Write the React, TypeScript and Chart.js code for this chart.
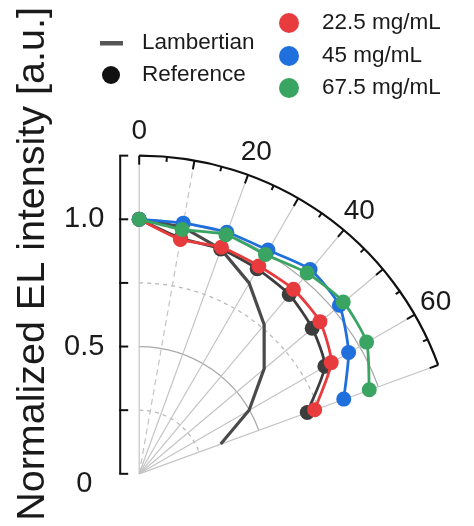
import React, { useEffect, useRef } from "react";
import { Chart, registerables } from "chart.js";

Chart.register(...registerables);

// ---------- data ----------
const angles = [0, 10, 20, 30, 40, 50, 60, 70];
const lambertian = [1.0, 0.985, 0.94, 0.866, 0.766, 0.643, 0.5, 0.342];
const reference = [1.0, 0.94, 0.94, 0.93, 0.92, 0.89, 0.845, 0.705];
const conc225 = [1.0, 0.935, 0.947, 0.943, 0.946, 0.93, 0.874, 0.736];
const conc45 = [1.0, 1.0, 1.01, 1.015, 1.048, 1.03, 0.953, 0.858];
const conc675 = [1.0, 0.975, 1.0, 0.995, 1.03, 1.05, 1.035, 0.965];

const radialTicks = [0, 0.25, 0.5, 0.75, 1.0, 1.25];
const radialTickLabels = ["0", "", "0.5", "", "1.0", ""];
const gridRadii = [0.25, 0.5, 0.75, 1.0];
const gridRadiiDashed = [true, false, true, false];
const spokeAngles = [0, 10, 20, 30, 40, 50, 60, 70];
const angleTickLabels = [0, 20, 40, 60];
const angleMax = 70;
const radiusMax = 1.25;
const yTitle = "Normalized EL intensity [a.u.]";
const seriesNames = ["Lambertian", "Reference", "22.5 mg/mL", "45 mg/mL", "67.5 mg/mL"];

// ---------- style / layout ----------
const W = 474;
const H = 526;
const ORIGIN_X = 136;
const ORIGIN_Y = 480;
const UNIT = 262;
const FONT = "'Liberation Sans', Arial, Helvetica, sans-serif";
const COL_RED = "#e83b3d";
const COL_BLUE = "#1f6fdc";
const COL_GREEN = "#3aa462";
const COL_REF = "#3d3d3d";
const COL_LAMB = "#4a4a4a";
const COL_GRID = "#c4c4c4";
const COL_TEXT = "#1a1a1a";

const deg = (a: number) => (a * Math.PI) / 180;
const toXY = (vals: number[]) =>
  vals.map((r, i) => ({ x: r * Math.sin(deg(angles[i])), y: r * Math.cos(deg(angles[i])) }));

const polarPlugin = {
  id: "polarDecor",
  beforeDatasetsDraw(chart: any) {
    const ctx = chart.ctx as CanvasRenderingContext2D;
    const xs = chart.scales.x;
    const ys = chart.scales.y;
    const ox = xs.getPixelForValue(0);
    const oy = ys.getPixelForValue(0);
    const R = (r: number) => oy - ys.getPixelForValue(r);
    const start = -Math.PI / 2;
    const end = -Math.PI / 2 + deg(angleMax);
    ctx.save();
    // concentric grid arcs
    gridRadii.forEach((r, i) => {
      ctx.beginPath();
      ctx.strokeStyle = gridRadiiDashed[i] ? "#b8b8b8" : "#a8a8a8";
      ctx.lineWidth = 1.2;
      ctx.setLineDash(gridRadiiDashed[i] ? [4, 4] : []);
      ctx.arc(ox, oy, R(r), start, end);
      ctx.stroke();
    });
    // spokes
    spokeAngles.forEach((a) => {
      ctx.beginPath();
      ctx.strokeStyle = COL_GRID;
      ctx.lineWidth = 1.2;
      ctx.setLineDash(a === 10 ? [6, 4] : []);
      ctx.moveTo(ox, oy);
      ctx.lineTo(ox + R(radiusMax) * Math.sin(deg(a)), oy - R(radiusMax) * Math.cos(deg(a)));
      ctx.stroke();
    });
    ctx.setLineDash([]);
    // outer arc
    ctx.beginPath();
    ctx.strokeStyle = "#111";
    ctx.lineWidth = 2.2;
    ctx.arc(ox, oy, R(radiusMax), start, end);
    ctx.stroke();
    // outer arc ticks
    for (let a = 0; a <= angleMax; a += 5) {
      const len = a % 10 === 0 ? 9 : 5;
      const r0 = R(radiusMax);
      const s = Math.sin(deg(a));
      const c = Math.cos(deg(a));
      ctx.beginPath();
      ctx.lineWidth = 2;
      ctx.moveTo(ox + r0 * s, oy - r0 * c);
      ctx.lineTo(ox + (r0 - len) * s, oy - (r0 - len) * c);
      ctx.stroke();
    }
    // radial axis (offset to the left)
    const axX = ox - 19;
    ctx.beginPath();
    ctx.lineWidth = 2;
    ctx.moveTo(axX, ys.getPixelForValue(radiusMax));
    ctx.lineTo(axX, oy);
    ctx.stroke();
    radialTicks.forEach((v) => {
      const y = ys.getPixelForValue(v);
      ctx.beginPath();
      ctx.moveTo(axX - 1, y);
      ctx.lineTo(axX + 8, y);
      ctx.stroke();
    });
    ctx.restore();
  },
  afterDraw(chart: any) {
    const ctx = chart.ctx as CanvasRenderingContext2D;
    const xs = chart.scales.x;
    const ys = chart.scales.y;
    const ox = xs.getPixelForValue(0);
    const oy = ys.getPixelForValue(0);
    const R = (r: number) => oy - ys.getPixelForValue(r);
    ctx.save();
    ctx.fillStyle = COL_TEXT;
    // radial tick labels
    ctx.font = `29px ${FONT}`;
    ctx.textAlign = "center";
    ctx.textBaseline = "middle";
    radialTicks.forEach((v, i) => {
      const t = radialTickLabels[i];
      if (!t) return;
      const y = ys.getPixelForValue(v) + (v === 0 ? 10 : 0);
      ctx.fillText(t, ox - 55, y);
    });
    // angle labels
    ctx.font = `28px ${FONT}`;
    angleTickLabels.forEach((a) => {
      const r = R(1.345);
      ctx.fillText(String(a), ox + r * Math.sin(deg(a)), oy - r * Math.cos(deg(a)));
    });
    // y title
    ctx.save();
    ctx.translate(44, 264);
    ctx.rotate(-Math.PI / 2);
    ctx.font = `39.5px ${FONT}`;
    ctx.textAlign = "center";
    ctx.textBaseline = "alphabetic";
    ctx.fillText(yTitle, 0, 0);
    ctx.restore();
    // legend
    ctx.font = `22.5px ${FONT}`;
    ctx.textAlign = "left";
    ctx.textBaseline = "middle";
    // Lambertian
    ctx.fillStyle = "#555";
    ctx.fillRect(100, 41, 23, 4.5);
    ctx.fillStyle = COL_TEXT;
    ctx.fillText(seriesNames[0], 142, 43);
    // Reference
    ctx.beginPath();
    ctx.fillStyle = "#111";
    ctx.arc(111, 75, 9, 0, Math.PI * 2);
    ctx.fill();
    ctx.fillStyle = COL_TEXT;
    ctx.fillText(seriesNames[1], 142, 75);
    const right = [
      { c: COL_RED, y: 23, t: seriesNames[2] },
      { c: COL_BLUE, y: 56, t: seriesNames[3] },
      { c: COL_GREEN, y: 88, t: seriesNames[4] },
    ];
    right.forEach((e) => {
      ctx.beginPath();
      ctx.fillStyle = e.c;
      ctx.arc(289, e.y, 10, 0, Math.PI * 2);
      ctx.fill();
      ctx.fillStyle = COL_TEXT;
      ctx.fillText(e.t, 322, e.y);
    });
    ctx.restore();
  },
};

export default function App() {
  const ref = useRef<HTMLCanvasElement | null>(null);
  useEffect(() => {
    if (!ref.current) return;
    const mk = (label: string, vals: number[], color: string, order: number, opts: any = {}) => ({
      label,
      data: toXY(vals),
      showLine: true,
      borderColor: color,
      backgroundColor: color,
      borderWidth: 2.8,
      pointRadius: 7.5,
      pointBorderWidth: 0,
      pointBackgroundColor: color,
      tension: 0.2,
      order,
      ...opts,
    });
    const chart = new Chart(ref.current, {
      type: "scatter",
      data: {
        datasets: [
          mk(seriesNames[4], conc675, COL_GREEN, 0),
          mk(seriesNames[3], conc45, COL_BLUE, 1),
          mk(seriesNames[2], conc225, COL_RED, 2),
          mk(seriesNames[1], reference, COL_REF, 3),
          mk(seriesNames[0], lambertian, COL_LAMB, 4, { pointRadius: 0, borderWidth: 3.2, tension: 0 }),
        ],
      },
      options: {
        responsive: false,
        animation: false,
        layout: { padding: 0 },
        plugins: { legend: { display: false }, tooltip: { enabled: false }, title: { display: false } },
        scales: {
          x: { type: "linear", display: false, min: -ORIGIN_X / UNIT, max: (W - ORIGIN_X) / UNIT },
          y: { type: "linear", display: false, min: -(H - ORIGIN_Y) / UNIT, max: ORIGIN_Y / UNIT },
        },
      },
      plugins: [polarPlugin],
    });
    return () => chart.destroy();
  }, []);
  return (
    <div style={{ position: "absolute", left: 0, top: 0, width: W, height: H, background: "#fff" }}>
      <canvas ref={ref} width={W} height={H} style={{ display: "block" }} />
    </div>
  );
}
